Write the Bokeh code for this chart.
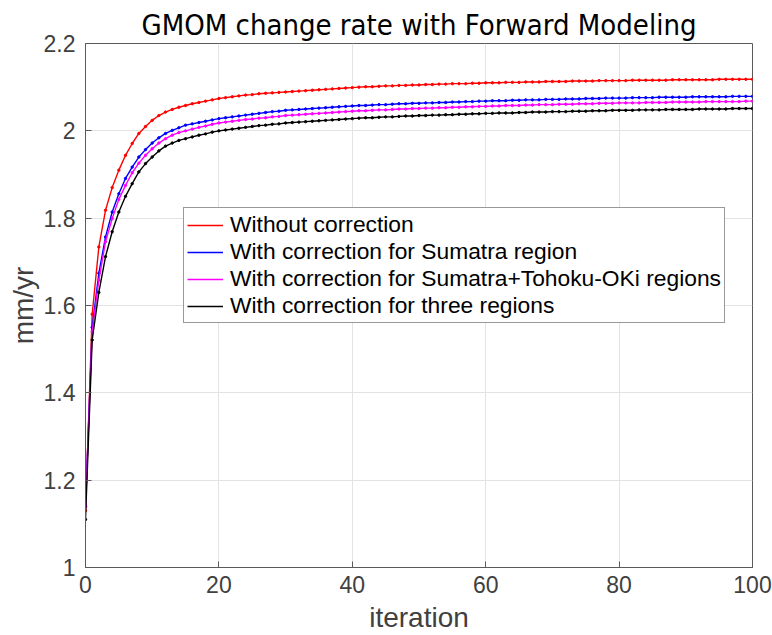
from bokeh.plotting import figure
from bokeh.models import (FixedTicker, CustomJSTickFormatter, Legend, LegendItem, Range1d)
from bokeh.embed import file_html
from bokeh.resources import INLINE

iterations = list(range(0, 101))

without_correction = [
    1.13, 1.58, 1.734, 1.818, 1.870, 1.910, 1.944, 1.971, 1.994, 2.010, 2.024, 2.035, 2.043, 2.049, 2.054, 2.058,
    2.062, 2.065, 2.068, 2.071, 2.074,
    2.076, 2.078, 2.080, 2.082, 2.083, 2.085, 2.086, 2.087, 2.088, 2.089,
    2.090, 2.091, 2.092, 2.093, 2.094, 2.095, 2.096, 2.097, 2.098, 2.099,
    2.100, 2.101, 2.101, 2.102, 2.103, 2.103, 2.104, 2.104, 2.105, 2.105,
    2.106, 2.106, 2.107, 2.107, 2.108, 2.108, 2.108, 2.109, 2.109, 2.110,
    2.110, 2.110, 2.111, 2.111, 2.111, 2.112, 2.112, 2.112, 2.113, 2.113,
    2.113, 2.113, 2.114, 2.114, 2.114, 2.114, 2.115, 2.115, 2.115, 2.115,
    2.115, 2.116, 2.116, 2.116, 2.116, 2.116, 2.116, 2.117, 2.117, 2.117,
    2.117, 2.117, 2.117, 2.117, 2.118, 2.118, 2.118, 2.118, 2.118, 2.118,
]

sumatra = [
    1.14, 1.55, 1.674, 1.757, 1.814, 1.856, 1.891, 1.917, 1.940, 1.957, 1.972, 1.984, 1.994, 2.001, 2.007, 2.013,
    2.016, 2.019, 2.022, 2.025, 2.028,
    2.030, 2.032, 2.034, 2.036, 2.038, 2.040, 2.042, 2.044, 2.045, 2.047,
    2.048, 2.049, 2.050, 2.051, 2.052, 2.053, 2.054, 2.055, 2.056, 2.057,
    2.058, 2.058, 2.059, 2.060, 2.060, 2.061, 2.062, 2.062, 2.063, 2.063,
    2.064, 2.064, 2.065, 2.065, 2.066, 2.066, 2.067, 2.067, 2.068, 2.068,
    2.069, 2.069, 2.069, 2.070, 2.070, 2.071, 2.071, 2.071, 2.072, 2.072,
    2.072, 2.073, 2.073, 2.073, 2.074, 2.074, 2.074, 2.075, 2.075, 2.075,
    2.075, 2.076, 2.076, 2.076, 2.076, 2.077, 2.077, 2.077, 2.077, 2.077,
    2.078, 2.078, 2.078, 2.078, 2.078, 2.078, 2.079, 2.079, 2.079, 2.079,
]

sumatra_tohoku = [
    1.14, 1.54, 1.658, 1.746, 1.799, 1.843, 1.875, 1.904, 1.926, 1.944, 1.959, 1.972, 1.982, 1.990, 1.996, 2.000,
    2.004, 2.008, 2.011, 2.015, 2.018,
    2.020, 2.022, 2.024, 2.026, 2.027, 2.029, 2.030, 2.032, 2.033, 2.035,
    2.036, 2.037, 2.038, 2.039, 2.040, 2.041, 2.042, 2.043, 2.044, 2.045,
    2.046, 2.046, 2.047, 2.048, 2.048, 2.049, 2.050, 2.050, 2.051, 2.051,
    2.052, 2.052, 2.053, 2.053, 2.054, 2.054, 2.055, 2.055, 2.056, 2.056,
    2.057, 2.057, 2.058, 2.058, 2.058, 2.059, 2.059, 2.060, 2.060, 2.060,
    2.061, 2.061, 2.061, 2.062, 2.062, 2.062, 2.063, 2.063, 2.063, 2.064,
    2.064, 2.064, 2.064, 2.065, 2.065, 2.065, 2.065, 2.066, 2.066, 2.066,
    2.066, 2.066, 2.067, 2.067, 2.067, 2.067, 2.067, 2.067, 2.068, 2.068,
]

three_regions = [
    1.11, 1.521, 1.63, 1.712, 1.769, 1.814, 1.850, 1.879, 1.906, 1.925, 1.940, 1.954, 1.965, 1.972, 1.978, 1.982,
    1.986, 1.990, 1.993, 1.997, 2.000,
    2.002, 2.004, 2.006, 2.008, 2.010, 2.012, 2.013, 2.015, 2.016, 2.018,
    2.019, 2.020, 2.021, 2.022, 2.023, 2.024, 2.025, 2.026, 2.027, 2.028,
    2.029, 2.030, 2.030, 2.031, 2.032, 2.032, 2.033, 2.034, 2.034, 2.035,
    2.035, 2.036, 2.036, 2.037, 2.037, 2.038, 2.038, 2.039, 2.039, 2.040,
    2.040, 2.041, 2.041, 2.041, 2.042, 2.042, 2.043, 2.043, 2.043, 2.044,
    2.044, 2.044, 2.045, 2.045, 2.045, 2.046, 2.046, 2.046, 2.047, 2.047,
    2.047, 2.047, 2.048, 2.048, 2.048, 2.048, 2.049, 2.049, 2.049, 2.049,
    2.049, 2.050, 2.050, 2.050, 2.050, 2.050, 2.051, 2.051, 2.051, 2.051,
]

series_names = [
    "Without correction",
    "With correction for Sumatra region",
    "With correction for Sumatra+Tohoku-OKi regions",
    "With correction for three regions",
]
series_values = [without_correction, sumatra, sumatra_tohoku, three_regions]
series_colors = ["#ff0000", "#0000ff", "#ff00ff", "#000000"]

x_ticks = [0, 20, 40, 60, 80, 100]
y_ticks = [1, 1.2, 1.4, 1.6, 1.8, 2, 2.2]

title_text = "GMOM change rate with Forward Modeling"
x_label = "iteration"
y_label = "mm/yr"

AXIS_COLOR = "#5a5a5a"
LABEL_COLOR = "#404040"
FONT = "Liberation Sans"

p = figure(width=772, height=635, output_backend="svg", toolbar_location=None,
           x_range=Range1d(0, 100), y_range=Range1d(1, 2.2),
           min_border_left=85, min_border_right=20, min_border_top=43, min_border_bottom=67,
           x_axis_label=x_label, y_axis_label=y_label)

p.title.text = title_text
p.title.align = "center"
p.title.text_font = "DejaVu Sans Condensed"
p.title.text_font_size = "29px"
p.title.text_font_style = "normal"
p.title.text_color = "#000000"
p.title.standoff = 4
p.title.offset = -4

p.outline_line_color = AXIS_COLOR
p.outline_line_width = 1
p.background_fill_color = "white"
p.border_fill_color = "white"

fmt = CustomJSTickFormatter(code="return String(Math.round(tick*10)/10);")

for ax, ticks in ((p.xaxis[0], x_ticks), (p.yaxis[0], y_ticks)):
    ax.ticker = FixedTicker(ticks=ticks)
    ax.formatter = fmt
    ax.major_tick_in = 6
    ax.major_tick_out = 0
    ax.minor_tick_in = 0
    ax.minor_tick_out = 0
    ax.axis_line_color = AXIS_COLOR
    ax.major_tick_line_color = AXIS_COLOR
    ax.major_label_text_font = FONT
    ax.major_label_text_font_size = "23px"
    ax.major_label_text_color = LABEL_COLOR
    ax.axis_label_text_font = FONT
    ax.axis_label_text_font_size = "28px"
    ax.axis_label_text_font_style = "normal"
    ax.axis_label_text_color = LABEL_COLOR

p.xaxis[0].major_label_standoff = 8
p.xaxis[0].axis_label_standoff = 6
p.yaxis[0].major_label_standoff = 10
p.yaxis[0].axis_label_standoff = 2

p.xgrid.ticker = FixedTicker(ticks=x_ticks)
p.ygrid.ticker = FixedTicker(ticks=y_ticks)
p.xgrid.grid_line_color = "#e3e3e3"
p.ygrid.grid_line_color = "#e3e3e3"

items = []
for name, vals, col in zip(series_names, series_values, series_colors):
    r1 = p.line(iterations, vals, line_color=col, line_width=1.4)
    p.scatter(iterations, vals, marker="circle", size=2.4, fill_color=col, line_color=col)
    items.append(LegendItem(label=name, renderers=[r1]))

legend = Legend(items=items, location=(98, 244))
legend.label_text_font = FONT
legend.label_text_font_size = "22.8px"
legend.label_text_color = "#000000"
legend.glyph_width = 36
legend.glyph_height = 26
legend.label_height = 26
legend.spacing = 0
legend.padding = 3
legend.margin = 0
legend.label_standoff = 7
legend.border_line_color = "#333333"
legend.border_line_width = 1
legend.background_fill_color = "white"
legend.background_fill_alpha = 1
p.add_layout(legend, "center")

open("out.html", "w").write(file_html(p, INLINE))
